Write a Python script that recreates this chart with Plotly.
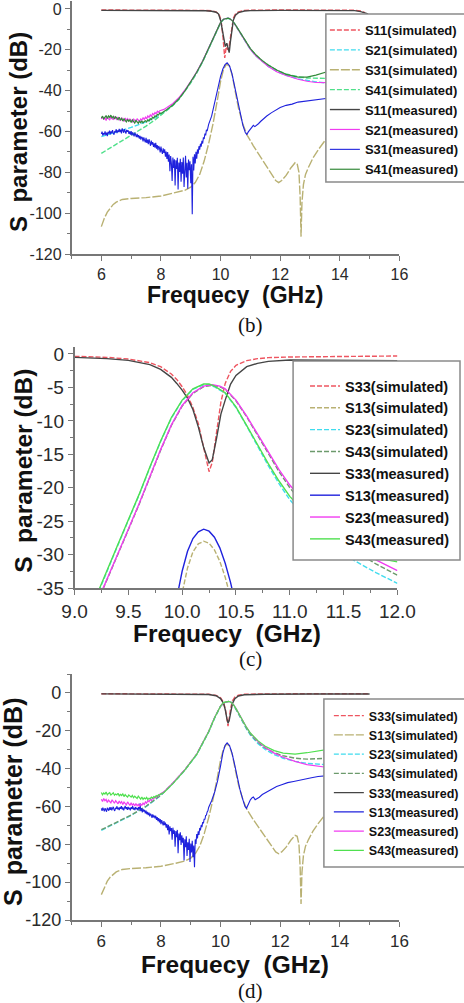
import plotly.graph_objects as go

W, H = 464, 1003

# ======================= panel (b) data =======================
b_s11_sim_x = [6.0, 7.0, 8.0, 9.0, 9.5, 9.7, 9.85, 9.95, 10.02, 10.08, 10.14, 10.19, 10.24, 10.28, 10.33, 10.38, 10.43, 10.5, 10.6, 10.8, 11.0, 12.0, 13.0, 14.0, 14.5, 14.7, 14.85]
b_s11_sim_y = [-0.5, -0.5, -0.5, -0.6, -0.7, -0.9, -1.4, -2.6, -6.0, -13.5, -24.0, -18.5, -20.0, -19.0, -14.0, -8.5, -4.5, -2.5, -1.4, -0.7, -0.6, -0.5, -0.5, -0.5, -0.6, -1.0, -1.8]

b_s11_meas_x = [6.0, 7.0, 8.0, 9.0, 9.5, 9.7, 9.85, 9.93, 10.0, 10.05, 10.1, 10.16, 10.21, 10.25, 10.29, 10.33, 10.38, 10.43, 10.5, 10.6, 10.8, 11.0, 12.0, 13.0, 14.0, 14.5, 14.7, 14.85, 14.95]
b_s11_meas_y = [-0.7, -0.7, -0.7, -0.8, -0.9, -1.1, -1.6, -2.4, -5.5, -9.5, -14.5, -18.4, -16.8, -19.0, -21.4, -16.0, -10.0, -5.4, -3.0, -1.8, -1.0, -0.8, -0.7, -0.7, -0.7, -0.8, -1.3, -2.0, -2.4]

b_sim_x = [6.0, 6.5, 7.0, 7.5, 7.8, 8.1, 8.2, 8.4, 8.6, 8.8, 9.0, 9.2, 9.4, 9.6, 9.8, 9.9, 10.0, 10.1, 10.2, 10.25, 10.3, 10.4, 10.5, 10.6, 10.8, 11.0, 11.2, 11.4, 11.6, 11.9, 12.2, 12.6, 12.9, 13.2, 13.6]
b_s21_sim_y = [-62.5, -60.2, -58.0, -55.3, -53.2, -50.6, -49.6, -47.2, -44.2, -40.4, -36.0, -31.2, -25.7, -19.4, -12.7, -9.4, -6.7, -5.1, -4.5, -4.5, -4.8, -5.9, -8.0, -10.5, -15.3, -19.8, -23.2, -25.9, -28.1, -30.7, -32.5, -34.2, -35.1, -35.7, -36.3]
b_s41_sim_y = [-70.7, -66.4, -62.0, -57.4, -54.3, -51.0, -49.8, -47.3, -44.3, -40.5, -36.2, -31.3, -25.8, -19.5, -12.8, -9.5, -6.8, -5.2, -4.6, -4.6, -4.8, -5.9, -7.9, -10.3, -15.1, -19.5, -22.8, -25.4, -27.5, -30.1, -31.8, -33.2, -33.8, -34.0, -34.0]

olive_x = [6.0, 6.1, 6.2, 6.3, 6.4, 6.5, 6.7, 7.0, 7.5, 8.0, 8.5, 8.8, 9.0, 9.15, 9.3, 9.45, 9.6, 9.75, 9.9, 10.0,
           10.1, 10.2, 10.3, 10.4, 10.5, 10.6, 10.75, 10.9, 11.1, 11.3, 11.5, 11.7, 11.85, 11.95, 12.05, 12.2, 12.35, 12.5, 12.57, 12.63,
           12.67, 12.7, 12.73, 12.78, 12.85, 12.95, 13.1, 13.3, 13.5, 13.6]
b_s31_sim_y = [-106.6, -102.5, -99.5, -97.3, -95.7, -94.6, -93.3, -92.8, -92.4, -91.6, -90.0, -88.8, -87.3, -85.0, -81.0, -74.5, -66.0, -56.0, -44.0, -35.5,
               -29.5, -27.0, -28.0, -33.0, -41.0, -48.5, -56.5, -62.0, -67.0, -71.5, -76.0, -80.5, -84.0, -85.0, -84.0, -81.5, -78.0, -75.3, -75.8, -80.0,
               -92.0, -111.5, -95.0, -86.0, -81.0, -77.5, -73.0, -68.5, -64.5, -62.5]

# noisy low-frequency parts of the measured curves (6.0 GHz upward)
noise_start = 6.0
b_lowband_step = 0.04
b_s21_meas_low = [-53.9, -52.8, -54.2, -53.1, -54.6, -52.9, -53.7, -54.4, -52.6, -53.8, -54.1, -52.7, -53.5,
                  -54.3, -52.9, -53.6, -54.8, -53.2, -54.0, -55.1, -53.4, -54.5, -53.7, -55.0, -53.9,
                  -54.6, -55.3, -53.8, -54.9, -55.4, -53.7, -54.8, -55.2, -53.9, -54.4, -53.3, -54.1,
                  -53.0, -53.8, -52.4, -53.1, -51.9, -52.6, -51.2, -51.8, -50.7, -51.3, -50.1, -50.6, -49.8, -49.6]
b_s41_meas_low = [-53.4, -52.5, -53.8, -52.9, -52.2, -53.6, -52.4, -53.1, -52.0, -53.3, -52.6, -53.9, -52.8,
                  -53.5, -54.2, -53.0, -54.4, -53.6, -54.9, -53.8, -54.6, -55.3, -54.1, -55.0, -54.4,
                  -55.6, -54.3, -55.4, -55.9, -54.6, -55.5, -56.0, -54.8, -55.7, -54.9, -55.8, -55.1,
                  -54.7, -55.3, -54.2, -54.8, -53.7, -54.2, -53.0, -53.4, -52.3, -52.7, -51.6, -51.9, -50.9, -51.2]
b_meas_hi_x = [8.1, 8.2, 8.4, 8.6, 8.8, 9.0, 9.2, 9.4, 9.6, 9.8, 9.9, 10.0, 10.1, 10.2, 10.25, 10.3, 10.4, 10.5, 10.6, 10.8, 11.0, 11.2, 11.4, 11.6, 11.9, 12.2, 12.6, 12.9, 13.2, 13.6]
b_s21_meas_hi = [-49.2, -48.3, -46.3, -43.5, -39.8, -35.5, -30.8, -25.4, -19.2, -12.5, -9.2, -6.6, -5.0, -4.5, -4.5, -4.7, -5.8, -7.9, -10.4, -15.3, -19.8, -23.2, -25.9, -28.2, -30.9, -32.6, -34.4, -35.4, -36.0, -36.1]
b_s41_meas_hi = [-50.3, -49.2, -47.0, -44.0, -40.2, -35.8, -31.0, -25.6, -19.3, -12.6, -9.3, -6.6, -5.0, -4.5, -4.5, -4.7, -5.8, -7.8, -10.2, -15.0, -19.4, -22.7, -25.3, -27.4, -30.0, -32.0, -33.4, -33.4, -32.4, -30.6]

blue_step = 0.025
b_s31_meas_low = [-61.2, -60.1, -62.0, -60.8, -61.5, -59.9, -61.8, -60.6, -62.3, -60.2, -61.0, -59.6,
                  -61.4, -60.0, -60.9, -59.3, -60.7, -61.6, -59.8, -60.4, -58.9, -60.8, -59.5, -60.2,
                  -58.7, -60.3, -59.1, -60.9, -58.5, -59.8, -60.6, -58.9, -59.7, -61.0, -59.2, -60.1,
                  -59.4, -61.2, -60.0, -61.5, -59.8, -61.9, -60.4, -61.1, -62.4, -60.6, -61.8, -62.7,
                  -61.2, -62.9, -61.8, -63.5, -62.1, -64.0, -62.6, -63.1, -64.8, -62.9, -64.2, -65.3,
                  -63.1, -65.6, -64.0, -66.2, -63.8, -65.1, -67.0, -64.5, -66.4, -65.2, -67.5, -65.8,
                  -67.9, -65.6, -68.4, -66.7, -69.2, -67.1, -68.0, -70.3, -67.4, -69.6, -71.0, -68.2,
                  -70.5, -68.7, -72.3, -69.8, -73.5, -70.1, -74.8, -71.3, -79.5, -72.0, -75.6, -84.2,
                  -72.8, -77.9, -73.6, -86.5, -74.1, -78.3, -72.9, -88.4, -75.2, -79.8, -73.4, -84.6,
                  -74.9, -80.7, -72.8, -87.2, -76.4, -71.9, -82.5, -75.3, -88.0, -73.7, -78.9, -74.6,
                  -85.3, -76.0, -100.5, -72.4, -79.1, -71.2, -75.6, -70.0, -73.3, -68.8, -70.9, -67.2,
                  -68.9, -66.0, -67.4, -64.6, -65.9, -62.8, -63.7, -61.0, -61.9, -59.2, -59.8, -57.6, -56.5]
b_s31_meas_hi_x = [9.7, 9.8, 9.9, 10.0, 10.08, 10.15, 10.22, 10.3, 10.38, 10.46, 10.55, 10.65, 10.75, 10.83, 10.88, 10.93, 11.0, 11.06, 11.1, 11.15, 11.2, 11.27, 11.35, 11.45, 11.55, 11.7, 11.85, 12.0, 12.2, 12.4, 12.6, 12.8, 13.0, 13.2, 13.4, 13.6]
b_s31_meas_hi = [-52.5, -45.5, -39.0, -33.0, -29.3, -27.3, -26.4, -27.8, -31.5, -37.0, -44.0, -51.0, -57.0, -60.5, -61.5, -60.2, -58.8, -57.6, -57.0, -57.6, -57.1, -56.2, -55.0, -53.6, -52.4, -50.9, -49.6, -48.3, -47.2, -46.6, -45.6, -45.2, -44.7, -44.4, -43.9, -43.7]

# ======================= panel (c) data =======================
c_s33_x = [9.0, 9.3, 9.5, 9.7, 9.8, 9.9, 9.95, 10.0, 10.05, 10.1, 10.15, 10.2, 10.25, 10.28, 10.32, 10.36, 10.4, 10.45, 10.5, 10.6, 10.7, 10.8, 11.0, 11.5, 12.0]
c_s33_sim_y = [-0.35, -0.5, -0.75, -1.3, -1.9, -3.0, -3.8, -4.9, -6.2, -8.0, -10.4, -14.0, -17.6, -16.2, -11.4, -7.2, -4.4, -2.6, -1.7, -1.0, -0.7, -0.55, -0.45, -0.35, -0.3]
c_s33_meas_y = [-0.5, -0.7, -0.95, -1.6, -2.3, -3.5, -4.4, -5.4, -6.6, -8.3, -10.9, -14.0, -16.3, -15.8, -12.6, -9.0, -6.9, -4.5, -3.2, -1.9, -1.4, -1.1, -0.9, -0.9, -1.0]

c_grp1_x = [9.2, 9.3, 9.4, 9.5, 9.6, 9.7, 9.8, 9.9, 10.0, 10.1, 10.2, 10.25, 10.3, 10.4, 10.5, 10.6, 10.7, 10.8, 10.9, 11.0, 11.2, 11.4, 11.6, 11.8, 12.0]
c_s43_meas_y = [-36.3, -32.3, -28.6, -24.8, -21.0, -16.9, -13.0, -9.5, -6.9, -5.2, -4.5, -4.5, -4.8, -5.8, -7.9, -10.7, -13.6, -16.4, -19.0, -21.3, -24.8, -27.5, -29.4, -30.5, -31.1]
c_s23_sim_y = [-36.5, -32.5, -28.7, -24.9, -21.1, -17.0, -13.1, -9.6, -7.0, -5.3, -4.6, -4.6, -4.9, -5.9, -8.0, -10.8, -13.8, -16.7, -19.4, -21.8, -25.5, -28.5, -30.9, -32.7, -34.3]
c_grp2_x = [9.24, 9.3, 9.4, 9.5, 9.6, 9.7, 9.8, 9.9, 10.0, 10.1, 10.2, 10.28, 10.35, 10.4, 10.5, 10.6, 10.7, 10.8, 10.9, 11.0, 11.2, 11.4, 11.6, 11.8, 12.0]
c_s23_meas_y = [-36.0, -33.8, -30.0, -26.2, -22.4, -18.3, -14.3, -10.6, -7.7, -5.8, -4.8, -4.6, -4.8, -5.2, -6.9, -9.3, -12.0, -14.7, -17.3, -19.6, -23.4, -26.4, -28.8, -30.8, -32.4]
c_s43_sim_y = [-36.1, -33.9, -30.1, -26.3, -22.5, -18.4, -14.4, -10.7, -7.8, -5.9, -4.9, -4.7, -4.9, -5.3, -7.0, -9.4, -12.1, -14.9, -17.6, -20.0, -23.9, -27.0, -29.4, -31.4, -33.1]

c_s13_meas_x = [9.95, 10.0, 10.05, 10.1, 10.15, 10.2, 10.25, 10.3, 10.35, 10.4, 10.45, 10.48]
c_s13_meas_y = [-36.5, -32.5, -29.5, -27.6, -26.6, -26.2, -26.5, -27.4, -29.0, -31.3, -34.2, -36.3]
c_s13_sim_x = [9.99, 10.05, 10.1, 10.15, 10.2, 10.25, 10.3, 10.35, 10.4, 10.45]
c_s13_sim_y = [-36.5, -32.0, -29.6, -28.4, -28.0, -28.3, -29.3, -31.0, -33.4, -36.4]

# ======================= panel (d) data =======================
d_s33_x = [6.0, 8.0, 9.0, 9.6, 9.85, 10.0, 10.1, 10.16, 10.21, 10.25, 10.29, 10.34, 10.4, 10.48, 10.6, 10.8, 11.5, 13.0, 15.0]
d_s33_sim_y = [-0.4, -0.4, -0.5, -0.7, -1.3, -2.6, -5.0, -8.5, -13.5, -17.5, -13.5, -8.0, -4.2, -2.2, -1.2, -0.7, -0.5, -0.4, -0.4]
d_s33_meas_y = [-0.5, -0.5, -0.6, -0.8, -1.5, -3.0, -5.5, -9.0, -13.5, -16.0, -14.5, -10.0, -5.5, -3.0, -1.6, -1.0, -0.7, -0.6, -0.6]

d_s13_sim_y = list(b_s31_sim_y)   # drawn identical to the S31 simulation of panel (b)

d_sim_x = [6.0, 6.5, 7.0, 7.5, 8.0, 8.4, 8.8, 9.2, 9.6, 9.8, 10.0, 10.1, 10.2, 10.27, 10.35, 10.45, 10.55, 10.7, 10.85, 11.0, 11.25, 11.5, 11.8, 12.1, 12.5, 12.9, 13.2, 13.6]
d_s23_sim_y = [-72.6, -68.8, -64.7, -60.1, -54.1, -47.9, -40.9, -32.6, -20.7, -13.3, -7.1, -5.3, -4.6, -4.5, -5.0, -6.8, -9.6, -14.2, -18.5, -22.3, -26.7, -29.9, -32.6, -34.5, -36.2, -37.2, -37.6, -38.0]
d_s43_sim_y = [-72.3, -68.5, -64.5, -59.9, -53.9, -47.7, -40.7, -32.4, -20.5, -13.1, -7.0, -5.2, -4.6, -4.5, -5.0, -6.7, -9.4, -13.9, -18.1, -21.8, -26.0, -29.1, -31.6, -33.2, -34.5, -35.0, -34.9, -34.5]

d_s23_meas_low = [-56.2, -57.4, -55.8, -57.0, -56.3, -57.9, -56.6, -57.3, -58.1, -56.5, -57.6, -58.3, -56.9,
                  -57.8, -58.6, -57.1, -58.3, -57.5, -58.9, -57.7, -58.4, -59.2, -57.6, -58.8, -59.5,
                  -58.1, -59.3, -58.6, -59.8, -58.4, -59.6, -58.9, -60.1, -58.7, -59.4, -58.2, -59.0,
                  -57.6, -58.3, -56.9, -57.5, -56.2, -56.8, -55.5, -56.0, -54.9, -55.3, -54.2, -54.6, -53.5, -53.2]
d_s43_meas_low = [-52.6, -53.8, -52.9, -53.5, -52.4, -53.9, -53.1, -52.7, -54.0, -53.3, -52.8, -54.1, -53.4,
                  -53.9, -53.0, -54.4, -53.6, -54.2, -53.4, -54.8, -53.7, -54.5, -55.0, -53.9, -54.6,
                  -55.1, -54.2, -55.4, -54.6, -55.0, -55.8, -54.5, -55.6, -56.1, -55.0, -56.3, -55.5,
                  -56.0, -55.2, -56.4, -55.6, -55.9, -55.1, -55.6, -54.8, -55.2, -54.3, -54.7, -53.8, -54.0, -53.3]
d_meas_hi_x = [8.1, 8.4, 8.8, 9.2, 9.6, 9.8, 10.0, 10.1, 10.2, 10.27, 10.35, 10.45, 10.55, 10.7, 10.85, 11.0, 11.25, 11.5, 11.8, 12.1, 12.5, 12.9, 13.2, 13.6]
d_s23_meas_hi = [-52.3, -47.6, -40.6, -32.3, -20.4, -13.0, -6.9, -5.2, -4.6, -4.5, -4.9, -6.5, -9.1, -13.5, -17.6, -21.3, -25.6, -28.9, -31.8, -34.0, -36.2, -37.9, -38.6, -39.4]
d_s43_meas_hi = [-52.6, -47.9, -40.8, -32.5, -20.5, -13.1, -6.9, -5.1, -4.5, -4.5, -4.9, -6.6, -9.2, -13.6, -17.6, -21.2, -25.2, -28.2, -30.5, -31.8, -32.3, -31.6, -30.8, -29.8]

d_s13_meas_low = [-61.0, -62.3, -60.6, -61.9, -62.6, -60.9, -61.7, -62.8, -60.7, -61.4, -62.2, -60.5,
                  -61.8, -60.4, -62.1, -61.0, -60.2, -61.6, -62.4, -60.7, -61.3, -59.9, -61.5, -60.6,
                  -61.9, -60.3, -61.2, -59.8, -61.6, -60.5, -62.0, -60.9, -59.7, -61.3, -60.4, -61.8,
                  -60.2, -61.5, -60.7, -62.1, -60.4, -61.2, -59.8, -61.7, -60.6, -61.9, -60.3, -61.4,
                  -60.8, -62.0, -60.4, -61.6, -58.3, -62.5, -60.9, -63.1, -61.4, -62.7, -61.8, -63.6,
                  -62.2, -64.1, -62.9, -64.6, -63.3, -65.2, -63.8, -64.5, -66.0, -64.2, -65.7, -64.8,
                  -66.3, -64.9, -67.1, -65.6, -67.8, -66.2, -68.4, -66.7, -69.3, -67.2, -68.6, -70.0,
                  -67.8, -69.9, -68.5, -71.2, -69.3, -72.6, -69.7, -74.8, -70.5, -73.1, -71.4, -77.6,
                  -71.2, -74.5, -72.6, -81.3, -73.0, -76.2, -72.4, -84.7, -74.3, -77.8, -73.6, -80.4,
                  -75.2, -79.1, -76.6, -88.5, -77.3, -81.5, -75.8, -86.2, -78.9, -83.0, -77.1, -89.4,
                  -79.6, -84.3, -78.2, -86.8, -80.7, -92.1, -77.4, -79.8, -74.6, -76.9, -73.1, -75.0,
                  -71.4, -72.6, -69.8, -70.9, -68.3, -68.9, -66.5, -66.9, -64.7, -64.6, -62.9, -62.3, -60.5]
d_s13_meas_hi_x = [9.7, 9.8, 9.9, 10.0, 10.08, 10.15, 10.22, 10.3, 10.38, 10.46, 10.55, 10.65, 10.75, 10.82, 10.87, 10.93, 11.0, 11.06, 11.1, 11.16, 11.22, 11.3, 11.4, 11.55, 11.7, 11.88, 12.05, 12.25, 12.45, 12.65, 12.85, 13.05, 13.27, 13.45, 13.6]
d_s13_meas_hi = [-57.0, -52.5, -46.5, -38.5, -31.5, -27.8, -26.4, -27.8, -31.5, -37.0, -44.0, -51.0, -56.5, -60.0, -61.0, -58.5, -56.5, -55.4, -55.0, -56.4, -56.0, -55.1, -53.7, -52.3, -50.9, -49.5, -48.5, -47.4, -46.8, -46.0, -45.3, -44.8, -44.2, -43.9, -43.7]

# ======================= tick labels and titles =======================
bd_xticks = [6, 8, 10, 12, 14, 16]
bd_xlabels = ["6", "8", "10", "12", "14", "16"]
bd_yticks = [-120, -100, -80, -60, -40, -20, 0]
bd_ylabels = ["-120", "-100", "-80", "-60", "-40", "-20", "0"]
c_xticks = [9.0, 9.5, 10.0, 10.5, 11.0, 11.5, 12.0]
c_xlabels = ["9.0", "9.5", "10.0", "10.5", "11.0", "11.5", "12.0"]
c_yticks = [-35, -30, -25, -20, -15, -10, -5, 0]
c_ylabels = ["-35", "-30", "-25", "-20", "-15", "-10", "-5", "0"]
x_title = "Frequecy\u00a0 (GHz)"
y_title = "S\u00a0 parameter (dB)"
captions = ["(b)", "(c)", "(d)"]

# ======================= helpers =======================
def grid(start, step, n):
    return [round(start + step * i, 4) for i in range(n)]

SANS = "Liberation Sans, Arial, sans-serif"
RED, CYAN, OLIVE, LGREEN = "#ee5560", "#3fdcee", "#b9b173", "#4fe08a"
DARK, MAGENTA, BLUE, DGREEN = "#454545", "#f03cf0", "#1f22dd", "#348a3a"
SIMGREEN, BGREEN = "#6c9a6c", "#4fe04f"
SIMDASH = "5px,2px"
OLIVEDASH = "9px,2px"

fig = go.Figure()

def add(x, y, name, color, dash, xa, ya, leg, width=1.4):
    fig.add_trace(go.Scatter(x=x, y=y, name=name, mode="lines",
                             line=dict(color=color, width=width, dash=dash),
                             xaxis=xa, yaxis=ya, legend=leg, hoverinfo="skip"))

# ---- (b)
add(b_s11_sim_x, b_s11_sim_y, "S11(simulated)", RED, SIMDASH, "x", "y", "legend")
add(b_sim_x, b_s21_sim_y, "S21(simulated)", CYAN, SIMDASH, "x", "y", "legend")
add(olive_x, b_s31_sim_y, "S31(simulated)", OLIVE, OLIVEDASH, "x", "y", "legend")
add(b_sim_x, b_s41_sim_y, "S41(simulated)", LGREEN, SIMDASH, "x", "y", "legend")
add(b_s11_meas_x, b_s11_meas_y, "S11(measured)", DARK, "solid", "x", "y", "legend")
add(grid(noise_start, b_lowband_step, len(b_s21_meas_low)) + b_meas_hi_x, b_s21_meas_low + b_s21_meas_hi,
    "S21(measured)", MAGENTA, "solid", "x", "y", "legend", 1.2)
add(grid(noise_start, blue_step, len(b_s31_meas_low)) + b_s31_meas_hi_x, b_s31_meas_low + b_s31_meas_hi,
    "S31(measured)", BLUE, "solid", "x", "y", "legend", 1.1)
add(grid(noise_start, b_lowband_step, len(b_s41_meas_low)) + b_meas_hi_x, b_s41_meas_low + b_s41_meas_hi,
    "S41(measured)", DGREEN, "solid", "x", "y", "legend", 1.2)

# ---- (c)
add(c_s33_x, c_s33_sim_y, "S33(simulated)", RED, SIMDASH, "x2", "y2", "legend2")
add(c_s13_sim_x, c_s13_sim_y, "S13(simulated)", OLIVE, SIMDASH, "x2", "y2", "legend2")
add(c_grp1_x, c_s23_sim_y, "S23(simulated)", CYAN, SIMDASH, "x2", "y2", "legend2")
add(c_grp2_x, c_s43_sim_y, "S43(simulated)", SIMGREEN, SIMDASH, "x2", "y2", "legend2")
add(c_s33_x, c_s33_meas_y, "S33(measured)", DARK, "solid", "x2", "y2", "legend2")
add(c_s13_meas_x, c_s13_meas_y, "S13(measured)", BLUE, "solid", "x2", "y2", "legend2")
add(c_grp2_x, c_s23_meas_y, "S23(measured)", MAGENTA, "solid", "x2", "y2", "legend2")
add(c_grp1_x, c_s43_meas_y, "S43(measured)", BGREEN, "solid", "x2", "y2", "legend2")

# ---- (d)
add(d_s33_x, d_s33_sim_y, "S33(simulated)", RED, SIMDASH, "x3", "y3", "legend3")
add(olive_x, d_s13_sim_y, "S13(simulated)", OLIVE, OLIVEDASH, "x3", "y3", "legend3")
add(d_sim_x, d_s23_sim_y, "S23(simulated)", CYAN, SIMDASH, "x3", "y3", "legend3")
add(d_sim_x, d_s43_sim_y, "S43(simulated)", SIMGREEN, SIMDASH, "x3", "y3", "legend3")
add(d_s33_x, d_s33_meas_y, "S33(measured)", DARK, "solid", "x3", "y3", "legend3")
add(grid(noise_start, blue_step, len(d_s13_meas_low)) + d_s13_meas_hi_x, d_s13_meas_low + d_s13_meas_hi,
    "S13(measured)", BLUE, "solid", "x3", "y3", "legend3", 1.1)
add(grid(noise_start, b_lowband_step, len(d_s23_meas_low)) + d_meas_hi_x, d_s23_meas_low + d_s23_meas_hi,
    "S23(measured)", MAGENTA, "solid", "x3", "y3", "legend3", 1.2)
add(grid(noise_start, b_lowband_step, len(d_s43_meas_low)) + d_meas_hi_x, d_s43_meas_low + d_s43_meas_hi,
    "S43(measured)", BGREEN, "solid", "x3", "y3", "legend3", 1.2)

# ======================= layout =======================
def px(v):
    return v / W

def py(v):
    return 1 - v / H

AXC = "#777777"

def axis(domain, rng, tv, tt, mdt, m0, fs, anchor):
    return dict(domain=domain, range=rng, tickmode="array", tickvals=tv, ticktext=tt,
                ticks="outside", ticklen=5, tickwidth=1.2, tickcolor=AXC,
                showline=True, linecolor=AXC, linewidth=1.5, showgrid=False, zeroline=False,
                anchor=anchor, automargin=False,
                tickfont=dict(family=SANS, size=fs, color="#2a2a2a"),
                minor=dict(tickmode="linear", dtick=mdt, tick0=m0, ticks="outside", ticklen=3,
                           tickwidth=1, tickcolor=AXC))

def title_ann(text, xc, yc, size, angle=0):
    return dict(text=text, x=px(xc), y=py(yc), xref="paper", yref="paper", showarrow=False,
                xanchor="center", yanchor="middle", textangle=angle, borderpad=0,
                font=dict(family=SANS, size=size, color="#111111", weight="bold"))

def caption_ann(text, xc, yc):
    return dict(text=text, x=px(xc), y=py(yc), xref="paper", yref="paper", showarrow=False,
                xanchor="center", yanchor="middle", borderpad=0,
                font=dict(family="Liberation Serif, Times New Roman, serif", size=21, color="#111111"))

legend_font = dict(family=SANS, size=13, color="#111111", weight="bold")

fig.update_layout(
    width=W, height=H, margin=dict(l=0, r=0, t=0, b=0),
    paper_bgcolor="white", plot_bgcolor="white", showlegend=True,
    xaxis=axis([px(72), px(402)], [5, 16], bd_xticks, bd_xlabels, 1, 5, 16, "y"),
    yaxis=axis([py(254), py(0.8)], [-120, 4], bd_yticks, bd_ylabels, 10, 0, 16, "x"),
    xaxis2=axis([px(75), px(400)], [9, 12], c_xticks, c_xlabels, 0.25, 9, 19, "y2"),
    yaxis2=axis([py(588), py(347.3)], [-35, 1], c_yticks, c_ylabels, 2.5, 0, 19, "x2"),
    xaxis3=axis([px(72), px(402)], [5, 16], bd_xticks, bd_xlabels, 1, 5, 17, "y3"),
    yaxis3=axis([py(920), py(674)], [-120, 10], bd_yticks, bd_ylabels, 10, 0, 18, "x3"),
    legend=dict(x=px(327), y=py(15), xanchor="left", yanchor="top", bgcolor="rgba(0,0,0,0)",
                borderwidth=0, font=legend_font, tracegroupgap=0),
    legend2=dict(x=px(307), y=py(370), xanchor="left", yanchor="top", bgcolor="rgba(0,0,0,0)",
                 borderwidth=0, font=dict(legend_font, size=14.5), tracegroupgap=0),
    legend3=dict(x=px(331), y=py(701), xanchor="left", yanchor="top", bgcolor="rgba(0,0,0,0)",
                 borderwidth=0, font=dict(legend_font, size=12.5), tracegroupgap=0),
    shapes=[
        dict(type="rect", xref="paper", yref="paper", x0=px(328), x1=px(472), y0=py(182), y1=py(14),
             fillcolor="white", line=dict(color="#8a8a8a", width=1.5), layer="above"),
        dict(type="rect", xref="paper", yref="paper", x0=px(295), x1=px(463), y0=py(560), y1=py(361),
             fillcolor="white", line=dict(color="#8a8a8a", width=1.5), layer="above"),
        dict(type="rect", xref="paper", yref="paper", x0=px(326), x1=px(472), y0=py(867), y1=py(699),
             fillcolor="white", line=dict(color="#8a8a8a", width=1.5), layer="above"),
    ],
    annotations=[
        title_ann(x_title, 237, 295, 23),
        title_ann(y_title, 18, 132, 24, -90),
        title_ann(x_title, 228, 633, 24.5),
        title_ann(y_title, 23, 471, 24.5, -90),
        title_ann(x_title, 237, 964, 24.5),
        title_ann(y_title, 13, 802, 25, -90),
        caption_ann(captions[0], 252, 325),
        caption_ann(captions[1], 252, 659),
        caption_ann(captions[2], 252, 991),
    ],
)

# the page's default 8px body margin would push the 464x1003 figure out of the window
fig.write_html("out.html", config={"displayModeBar": False},
               post_script="document.body.style.margin='0';document.body.style.overflow='hidden';")
